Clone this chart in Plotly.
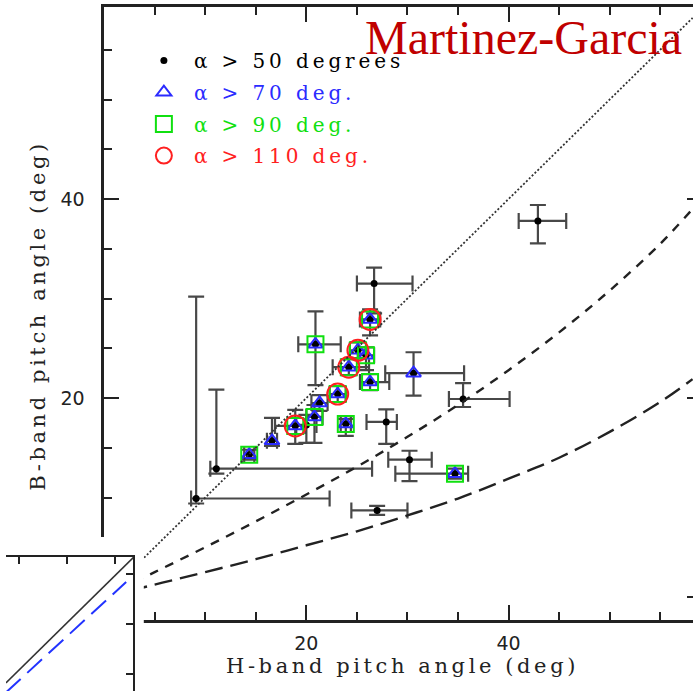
import plotly.graph_objects as go

# ---------------------------------------------------------------------------
# Spiral-arm pitch angles measured in the H band and in the B band (degrees)
# alpha_min: arm-extent class of each galaxy (alpha > 50, 70, 90 or 110 deg)
# ---------------------------------------------------------------------------
h_pitch = [26.7, 42.9, 35.5, 27.9, 30.2, 27.0, 9.1, 11.1, 20.0,
           30.6, 16.6, 21.3,
           20.9, 25.9, 26.3, 20.8, 23.9, 14.35, 34.7,
           26.3, 25.1, 24.2, 23.1, 18.9]
b_pitch = [31.5, 37.8, 19.9, 17.6, 13.8, 8.7, 9.9, 12.9, 17.3,
           22.5, 15.7, 19.5,
           25.4, 24.3, 21.6, 18.1, 17.4, 14.3, 12.4,
           27.9, 24.8, 23.1, 20.4, 17.2]
h_err_minus = [1.7, 1.9, 1.4, 1.95, 2.1, 2.55, 0.5, 0.6, 1.0,
               2.8, 0.5, 0.8,
               1.7, 0.8, 1.0, 0.8, 0.5, 0.5, 5.9,
               1.0, 0.8, 1.6, 0.8, 2.0]
h_err_plus = [3.8, 2.8, 4.6, 1.05, 2.2, 3.0, 13.2, 15.4, 1.0,
              5.0, 0.5, 0.8,
              2.5, 0.8, 1.9, 0.8, 0.5, 0.5, 1.3,
              1.0, 0.8, 2.0, 0.8, 1.0]
b_err_minus = [3.0, 2.25, 0.8, 2.2, 2.15, 0.45, 0.5, 0.5, 1.8,
               2.25, 0.5, 0.8,
               4.1, 1.5, 0.8, 2.6, 1.2, 0.5, 0.5,
               1.6, 0.8, 0.8, 0.8, 1.8]
b_err_plus = [1.6, 1.6, 1.6, 1.25, 0.9, 0.45, 20.3, 7.95, 1.0,
              2.1, 2.3, 0.8,
              3.3, 0.8, 0.8, 1.2, 0.5, 0.5, 0.5,
              1.0, 0.8, 0.8, 0.8, 1.6]
alpha_min = [50, 50, 50, 50, 50, 50, 50, 50, 50,
             70, 70, 70,
             90, 90, 90, 90, 90, 90, 90,
             110, 110, 110, 110, 110]

# Reference relations B vs H, read at these H-band angles
curve_h = [0, 5, 10, 15, 20, 25, 30, 35, 40, 45, 50, 55, 58.2]
curve_b_short = [0, 2.5, 5.0, 7.6, 10.3, 13.1, 16.1, 19.3, 22.8, 26.6, 30.8, 35.5, 39.0]
curve_b_long = [0, 1.25, 2.5, 3.8, 5.2, 6.6, 8.2, 9.9, 11.9, 14.0, 16.6, 19.6, 21.9]
one_to_one = [0, 58.2]

# Corner of the companion panel (same quantities, different sample)
inset_x = [7.3, 33.9]
inset_solid = [8.2, 33.4]
inset_dash_x = [7.3, 32.3]
inset_dash_y = [6.3, 28.4]

legend_labels = ["α &gt; 50 degrees", "α &gt; 70 deg.", "α &gt; 90 deg.", "α &gt; 110 deg."]
class_limits = [50, 70, 90, 110]
class_colors = ["#000000", "#2b2bff", "#10e010", "#ff2020"]
class_symbols = ["circle", "triangle-up-open", "square-open", "circle-open"]
class_sizes = [7, 13, 16, 21]

W, H = 693, 691


def px_x(p):
    return p / W


def px_y(p):
    return (H - p) / H


AX = "#222222"
fig = go.Figure()

# Galaxies: black dots with asymmetric error bars, then the class symbols
for k, (lim, col, sym, size, lab) in enumerate(
        zip(class_limits, class_colors, class_symbols, class_sizes, legend_labels)):
    idx = [i for i, a in enumerate(alpha_min) if a >= lim]
    trace = dict(
        x=[h_pitch[i] for i in idx],
        y=[b_pitch[i] for i in idx],
        mode="markers",
        name=f'<span style="color:{col};letter-spacing:3.9px">{lab}</span>',
        legendgroup=f"class{lim}",
        marker=dict(symbol=sym, size=size, color=col,
                    line=dict(width=2 if k else 0, color=col)),
        hoverinfo="x+y",
    )
    if k == 0:
        trace["error_x"] = dict(type="data", symmetric=False,
                                array=[h_err_plus[i] for i in idx],
                                arrayminus=[h_err_minus[i] for i in idx],
                                color="#484848", thickness=2.2, width=8)
        trace["error_y"] = dict(type="data", symmetric=False,
                                array=[b_err_plus[i] for i in idx],
                                arrayminus=[b_err_minus[i] for i in idx],
                                color="#484848", thickness=2.2, width=8)
    fig.add_trace(go.Scatter(**trace))

# 1:1 line and the two model relations
fig.add_trace(go.Scatter(x=one_to_one, y=one_to_one, mode="lines", showlegend=False,
                         line=dict(color="#333333", width=1.8, dash="2px,2px"),
                         hoverinfo="skip"))
fig.add_trace(go.Scatter(x=curve_h, y=curve_b_short, mode="lines", showlegend=False,
                         line=dict(color="#222222", width=2.4, dash="9px,8px", shape="spline"),
                         hoverinfo="skip"))
fig.add_trace(go.Scatter(x=curve_h, y=curve_b_long, mode="lines", showlegend=False,
                         line=dict(color="#222222", width=2.4, dash="18px,8px", shape="spline"),
                         hoverinfo="skip"))

# Right-hand frame ticks (the frame edge itself lies just past the figure)
fig.add_trace(go.Scatter(x=[None], y=[None], yaxis="y4", showlegend=False, hoverinfo="skip"))

# Blank panel that holds the companion plot
fig.add_trace(go.Scatter(x=[None], y=[None], xaxis="x2", yaxis="y2",
                         showlegend=False, hoverinfo="skip"))

# Companion panel lines
fig.add_trace(go.Scatter(x=inset_x, y=inset_solid, xaxis="x3", yaxis="y3", mode="lines",
                         showlegend=False, line=dict(color="#333333", width=1.6),
                         hoverinfo="skip"))
fig.add_trace(go.Scatter(x=inset_dash_x, y=inset_dash_y, xaxis="x3", yaxis="y3", mode="lines",
                         showlegend=False, line=dict(color="#2233ff", width=2, dash="20px,9px"),
                         hoverinfo="skip"))

tickfont = dict(family="DejaVu Sans", size=19, color=AX)
minor = dict(dtick=5, ticklen=8, tickwidth=2, tickcolor=AX, ticks="inside")

fig.update_layout(
    width=W, height=H,
    margin=dict(l=0, r=0, t=0, b=0),
    paper_bgcolor="white", plot_bgcolor="white",
    xaxis=dict(domain=[px_x(99), 1.0], range=[0, 58.24], anchor="y",
               showline=True, linecolor=AX, linewidth=2.5, mirror="ticks",
               ticks="inside", ticklen=15, tickwidth=2, tickcolor=AX,
               dtick=20, tick0=0, minor=minor, showgrid=False, zeroline=False,
               tickfont=tickfont, ticklabelstandoff=5),
    yaxis=dict(domain=[px_y(619.5), px_y(7)], range=[-2.26, 59.3], anchor="x",
               showline=True, linecolor=AX, linewidth=2.5, mirror=False,
               ticks="inside", ticklen=15, tickwidth=2, tickcolor=AX,
               dtick=20, tick0=0, minor=minor, showgrid=False, zeroline=False,
               tickfont=tickfont, ticklabelstandoff=13),
    yaxis4=dict(overlaying="y", side="right", anchor="x", range=[-2.26, 59.3],
                tickvals=[0, 20, 40], ticks="inside", ticklen=6, tickwidth=2,
                tickcolor=AX, showticklabels=False, showline=False,
                showgrid=False, zeroline=False),
    xaxis2=dict(domain=[0, px_x(139)], anchor="y2", range=[0, 1], showline=False,
                showticklabels=False, ticks="", showgrid=False, zeroline=False),
    yaxis2=dict(domain=[0, px_y(537)], anchor="x2", range=[0, 1], showline=False,
                showticklabels=False, ticks="", showgrid=False, zeroline=False),
    xaxis3=dict(domain=[0, px_x(128)], anchor="y3", side="top", range=[7.32, 33.7],
                tickvals=[10, 20, 30], ticks="inside", ticklen=7, tickwidth=2,
                tickcolor=AX, showline=True, linecolor=AX, linewidth=2,
                showticklabels=False, showgrid=False, zeroline=False),
    yaxis3=dict(domain=[0, px_y(557)], anchor="x3", side="right", range=[6.6, 33.4],
                tickvals=[10, 20, 30], ticks="inside", ticklen=7, tickwidth=2,
                tickcolor=AX, showline=True, linecolor=AX, linewidth=2,
                showticklabels=False, showgrid=False, zeroline=False),
    legend=dict(x=px_x(129), y=px_y(41), xanchor="left", yanchor="top",
                bgcolor="rgba(0,0,0,0)", borderwidth=0, itemwidth=50,
                font=dict(family="DejaVu Serif", size=20, color="#000000"),
                tracegroupgap=2.7, itemclick=False),
    showlegend=True,
    annotations=[
        dict(text='<span style="letter-spacing:3.6px">H-band pitch angle (deg)</span>',
             xref="paper", yref="paper", x=px_x(400), y=px_y(666),
             xanchor="center", yanchor="middle", showarrow=False,
             font=dict(family="DejaVu Serif", size=21, color=AX)),
        dict(text='<span style="letter-spacing:3.6px">B-band pitch angle (deg)</span>',
             xref="paper", yref="paper", x=px_x(32), y=px_y(315), textangle=-90,
             xanchor="center", yanchor="middle", showarrow=False,
             font=dict(family="DejaVu Serif", size=21, color=AX)),
        dict(text="Martinez-Garcia", xref="paper", yref="paper",
             x=px_x(360), y=px_y(9), xanchor="left", yanchor="top", showarrow=False,
             font=dict(family="Liberation Serif", size=48, color="#c00000")),
    ],
)

fig.write_html("out.html")
